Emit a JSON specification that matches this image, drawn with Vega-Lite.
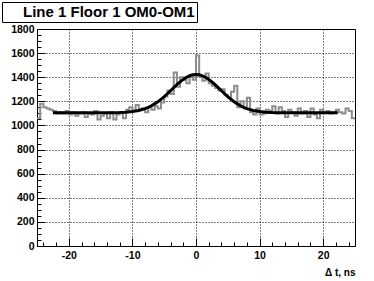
{
  "$schema": "https://vega.github.io/schema/vega-lite/v6.json",
  "autosize": {"type": "none"},
  "padding": {"left": 37, "top": 29, "right": 19, "bottom": 35},
  "width": 318,
  "height": 217,
  "background": "white",
  "view": {"stroke": "black", "strokeWidth": 1},
  "datasets": {
    "hist": [
      {"t": -25, "count": 1060}, {"t": -24.5, "count": 1180}, {"t": -24, "count": 1150}, {"t": -23.5, "count": 1140},
      {"t": -23, "count": 1130}, {"t": -22.5, "count": 1120}, {"t": -22, "count": 1100}, {"t": -21.5, "count": 1110},
      {"t": -21, "count": 1100}, {"t": -20.5, "count": 1120}, {"t": -20, "count": 1090}, {"t": -19.5, "count": 1110},
      {"t": -19, "count": 1080}, {"t": -18.5, "count": 1100}, {"t": -18, "count": 1110}, {"t": -17.5, "count": 1070},
      {"t": -17, "count": 1100}, {"t": -16.5, "count": 1090}, {"t": -16, "count": 1120}, {"t": -15.5, "count": 1050},
      {"t": -15, "count": 1080}, {"t": -14.5, "count": 1100}, {"t": -14, "count": 1060}, {"t": -13.5, "count": 1110},
      {"t": -13, "count": 1050}, {"t": -12.5, "count": 1090}, {"t": -12, "count": 1110}, {"t": -11.5, "count": 1060},
      {"t": -11, "count": 1130}, {"t": -10.5, "count": 1150}, {"t": -10, "count": 1120}, {"t": -9.5, "count": 1170},
      {"t": -9, "count": 1130}, {"t": -8.5, "count": 1140}, {"t": -8, "count": 1110}, {"t": -7.5, "count": 1150},
      {"t": -7, "count": 1130}, {"t": -6.5, "count": 1160}, {"t": -6, "count": 1140}, {"t": -5.5, "count": 1190},
      {"t": -5, "count": 1240}, {"t": -4.5, "count": 1290}, {"t": -4, "count": 1260}, {"t": -3.5, "count": 1440},
      {"t": -3, "count": 1320}, {"t": -2.5, "count": 1400}, {"t": -2, "count": 1380}, {"t": -1.5, "count": 1350},
      {"t": -1, "count": 1420}, {"t": -0.5, "count": 1380}, {"t": 0, "count": 1580}, {"t": 0.5, "count": 1410},
      {"t": 1, "count": 1370}, {"t": 1.5, "count": 1430}, {"t": 2, "count": 1350}, {"t": 2.5, "count": 1330},
      {"t": 3, "count": 1310}, {"t": 3.5, "count": 1290}, {"t": 4, "count": 1300}, {"t": 4.5, "count": 1250},
      {"t": 5, "count": 1230}, {"t": 5.5, "count": 1280}, {"t": 6, "count": 1330}, {"t": 6.5, "count": 1150},
      {"t": 7, "count": 1200}, {"t": 7.5, "count": 1140}, {"t": 8, "count": 1230}, {"t": 8.5, "count": 1110},
      {"t": 9, "count": 1090}, {"t": 9.5, "count": 1140}, {"t": 10, "count": 1090}, {"t": 10.5, "count": 1100},
      {"t": 11, "count": 1130}, {"t": 11.5, "count": 1120}, {"t": 12, "count": 1160}, {"t": 12.5, "count": 1100},
      {"t": 13, "count": 1150}, {"t": 13.5, "count": 1120}, {"t": 14, "count": 1070}, {"t": 14.5, "count": 1130},
      {"t": 15, "count": 1110}, {"t": 15.5, "count": 1080}, {"t": 16, "count": 1140}, {"t": 16.5, "count": 1100},
      {"t": 17, "count": 1120}, {"t": 17.5, "count": 1070}, {"t": 18, "count": 1140}, {"t": 18.5, "count": 1090},
      {"t": 19, "count": 1060}, {"t": 19.5, "count": 1130}, {"t": 20, "count": 1110}, {"t": 20.5, "count": 1120},
      {"t": 21, "count": 1100}, {"t": 21.5, "count": 1110}, {"t": 22, "count": 1130}, {"t": 22.5, "count": 1110},
      {"t": 23, "count": 1100}, {"t": 23.5, "count": 1140}, {"t": 24, "count": 1120}, {"t": 24.5, "count": 1060},
      {"t": 25, "count": 1060}
    ],
    "fit": [
      {"t": -22.5, "v": 1105}, {"t": -20, "v": 1105}, {"t": -16, "v": 1105}, {"t": -14, "v": 1105},
      {"t": -13, "v": 1106}, {"t": -12, "v": 1107}, {"t": -11, "v": 1110}, {"t": -10, "v": 1115},
      {"t": -9, "v": 1124}, {"t": -8, "v": 1140}, {"t": -7.5, "v": 1150}, {"t": -7, "v": 1163},
      {"t": -6.5, "v": 1179}, {"t": -6, "v": 1196}, {"t": -5.5, "v": 1217}, {"t": -5, "v": 1239},
      {"t": -4.5, "v": 1263}, {"t": -4, "v": 1288}, {"t": -3.5, "v": 1313}, {"t": -3, "v": 1338},
      {"t": -2.5, "v": 1361}, {"t": -2, "v": 1382}, {"t": -1.5, "v": 1399}, {"t": -1, "v": 1412},
      {"t": -0.5, "v": 1420}, {"t": 0, "v": 1423}, {"t": 0.5, "v": 1420}, {"t": 1, "v": 1412},
      {"t": 1.5, "v": 1399}, {"t": 2, "v": 1382}, {"t": 2.5, "v": 1361}, {"t": 3, "v": 1338},
      {"t": 3.5, "v": 1313}, {"t": 4, "v": 1288}, {"t": 4.5, "v": 1263}, {"t": 5, "v": 1239},
      {"t": 5.5, "v": 1217}, {"t": 6, "v": 1196}, {"t": 6.5, "v": 1179}, {"t": 7, "v": 1163},
      {"t": 7.5, "v": 1150}, {"t": 8, "v": 1140}, {"t": 9, "v": 1124}, {"t": 10, "v": 1115},
      {"t": 11, "v": 1110}, {"t": 12, "v": 1107}, {"t": 13, "v": 1106}, {"t": 14, "v": 1105},
      {"t": 18, "v": 1105}, {"t": 22.3, "v": 1105}
    ]
  },
  "layer": [
    {
      "data": {"name": "hist"},
      "mark": {"type": "line", "interpolate": "step-after", "strokeWidth": 2},
      "encoding": {
        "x": {
          "field": "t", "type": "quantitative",
          "scale": {"domain": [-25, 25], "nice": false},
          "axis": {
            "values": [-24, -22, -20, -18, -16, -14, -12, -10, -8, -6, -4, -2, 0, 2, 4, 6, 8, 10, 12, 14, 16, 18, 20, 22, 24],
            "tickCount": 200,
            "labelExpr": "datum.value % 10 === 0 ? '' + datum.value : ''",
            "labelOverlap": false,
            "labelFlush": false,
            "tickSize": {"condition": {"test": "datum.value % 10 === 0", "value": -8}, "value": -4},
            "labelPadding": 12,
            "grid": true,
            "gridOpacity": {"condition": {"test": "datum.value % 10 === 0", "value": 1}, "value": 0},
            "title": "Δ t, ns",
            "titleAnchor": "end",
            "titleAlign": "right",
            "titlePadding": 3
          }
        },
        "y": {
          "field": "count", "type": "quantitative",
          "scale": {"domain": [0, 1800], "nice": false},
          "axis": {
            "values": [0, 50, 100, 150, 200, 250, 300, 350, 400, 450, 500, 550, 600, 650, 700, 750, 800, 850, 900, 950, 1000, 1050, 1100, 1150, 1200, 1250, 1300, 1350, 1400, 1450, 1500, 1550, 1600, 1650, 1700, 1750, 1800],
            "tickCount": 200,
            "labelExpr": "datum.value % 200 === 0 ? '' + datum.value : ''",
            "labelOverlap": false,
            "labelFlush": false,
            "tickSize": {"condition": {"test": "datum.value % 200 === 0", "value": -8}, "value": -4},
            "labelPadding": 11,
            "grid": true,
            "gridOpacity": {"condition": {"test": "datum.value % 200 === 0", "value": 1}, "value": 0},
            "title": null
          }
        },
        "stroke": {
          "datum": "Line 1 Floor 1 OM0-OM1",
          "type": "nominal",
          "scale": {"range": ["#8c8c8c"]},
          "legend": {
            "title": null,
            "orient": "none",
            "legendX": -35,
            "legendY": -27,
            "direction": "vertical",
            "padding": 2,
            "strokeColor": "black",
            "fillColor": "white",
            "symbolType": "square",
            "symbolSize": 256,
            "symbolOpacity": 0,
            "symbolStrokeWidth": 0,
            "labelOffset": 3,
            "labelFont": "Liberation Sans",
            "labelFontWeight": "bold",
            "labelFontSize": 15,
            "labelColor": "black",
            "labelLimit": 400
          }
        }
      }
    },
    {
      "data": {"name": "fit"},
      "mark": {"type": "line", "color": "black", "strokeWidth": 3},
      "encoding": {
        "x": {"field": "t", "type": "quantitative"},
        "y": {"field": "v", "type": "quantitative"}
      }
    }
  ],
  "config": {
    "font": "Liberation Sans",
    "axis": {
      "domainColor": "black",
      "domainWidth": 1,
      "tickColor": "black",
      "tickWidth": 1,
      "labelFont": "Liberation Sans",
      "labelFontWeight": "bold",
      "labelFontSize": 10.5,
      "labelColor": "black",
      "titleFont": "Liberation Sans",
      "titleFontWeight": "bold",
      "titleFontSize": 10,
      "titleColor": "black",
      "gridColor": "black",
      "gridDash": [1, 2],
      "gridWidth": 1
    }
  }
}
